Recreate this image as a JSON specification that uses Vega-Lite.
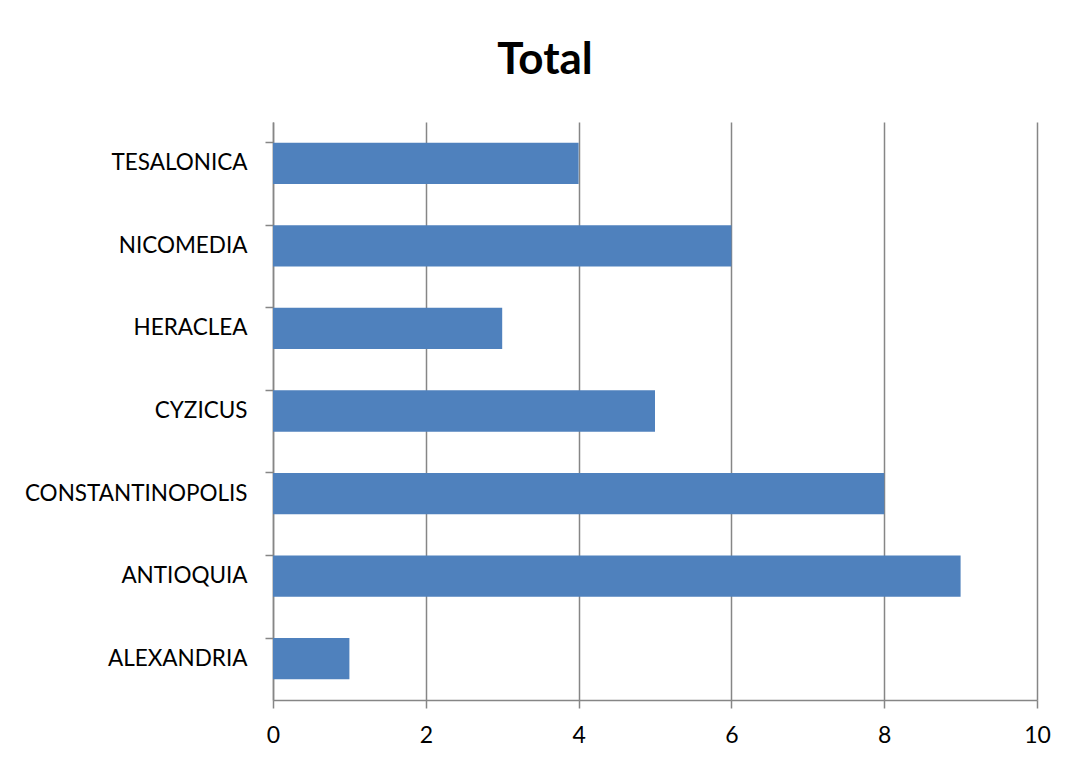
{
  "$schema": "https://vega.github.io/schema/vega-lite/v6.json",
  "width": 764,
  "height": 578,
  "autosize": {"type": "none"},
  "padding": {"left": 273, "top": 122, "right": 31, "bottom": 60},
  "background": "white",
  "title": {
    "text": "Total",
    "font": "Lato",
    "fontSize": 44,
    "fontWeight": "bold",
    "color": "black",
    "anchor": "middle",
    "dx": -110,
    "offset": 4,
    "baseline": "alphabetic"
  },
  "data": {
    "values": [
      {"city": "TESALONICA", "total": 4},
      {"city": "NICOMEDIA", "total": 6},
      {"city": "HERACLEA", "total": 3},
      {"city": "CYZICUS", "total": 5},
      {"city": "CONSTANTINOPOLIS", "total": 8},
      {"city": "ANTIOQUIA", "total": 9},
      {"city": "ALEXANDRIA", "total": 1}
    ]
  },
  "mark": {"type": "bar", "color": "#4F81BD"},
  "encoding": {
    "y": {
      "field": "city",
      "type": "nominal",
      "sort": null,
      "scale": {"paddingInner": 0.5, "paddingOuter": 0.25},
      "axis": {
        "title": null,
        "bandPosition": 0,
        "grid": false,
        "domainColor": "#868686",
        "domainWidth": 1.5,
        "tickColor": "#868686",
        "tickWidth": 1.5,
        "tickSize": 8,
        "labelPadding": 18,
        "labelLimit": 400,
        "labelFont": "Lato",
        "labelFontSize": 22.5,
        "labelColor": "black"
      }
    },
    "x": {
      "field": "total",
      "type": "quantitative",
      "scale": {"domain": [0, 10]},
      "axis": {
        "title": null,
        "values": [0, 2, 4, 6, 8, 10],
        "grid": true,
        "gridColor": "#868686",
        "gridWidth": 1.5,
        "domainColor": "#868686",
        "domainWidth": 1.5,
        "tickColor": "#868686",
        "tickWidth": 1.5,
        "tickSize": 8,
        "labelPadding": 16,
        "labelFont": "Lato",
        "labelFontSize": 23,
        "labelColor": "black",
        "labelFlush": false
      }
    }
  },
  "config": {"view": {"stroke": null}}
}
